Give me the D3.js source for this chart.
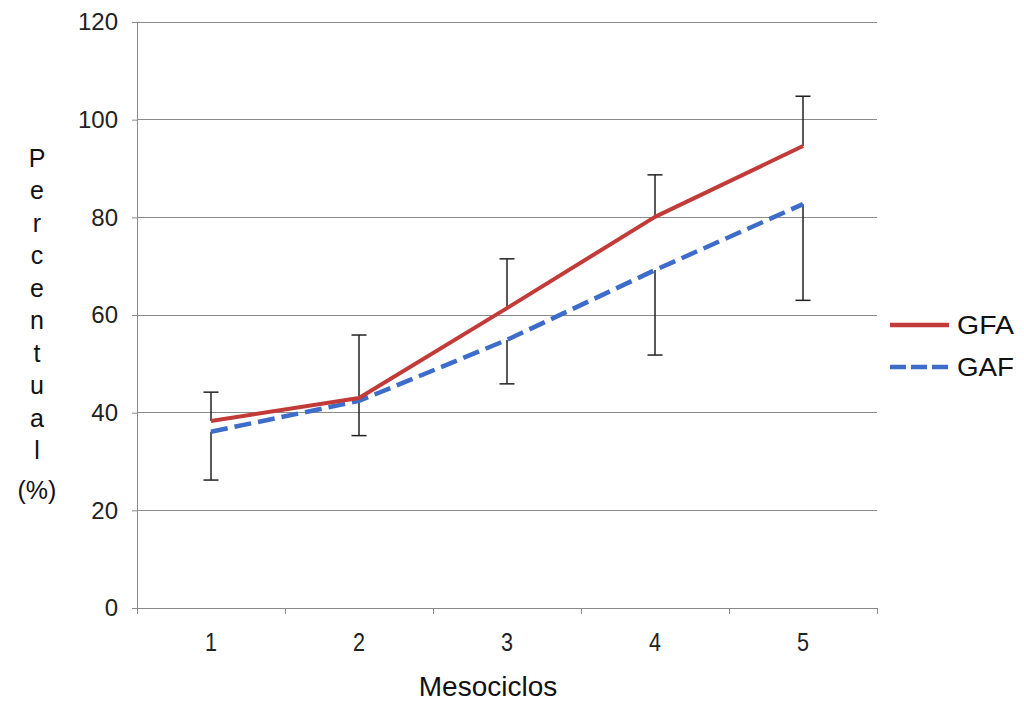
<!DOCTYPE html>
<html><head><meta charset="utf-8">
<script src="https://cdn.jsdelivr.net/npm/d3@7"></script>
<style>body{margin:0;background:#fff}svg{display:block}</style>
</head><body><svg id="c" width="1024" height="701"></svg>
<script>
const categories = ["1","2","3","4","5"];
const gfaValues = [38.3, 43.0, 61.4, 80.1, 94.6];
const gafValues = [36.1, 42.4, 54.9, 69.2, 82.7];
const gfaErrPlus = [5.9, 12.9, 10.1, 8.6, 10.2];
const gafErrMinus = [9.9, 7.1, 9.0, 17.4, 19.7];
const yTicks = [0, 20, 40, 60, 80, 100, 120];
const yLabelChars = ["P","e","r","c","e","n","t","u","a","l","(%)"];
const seriesNames = ["GFA","GAF"];

const svg = d3.select("#c");
const L = 137, R = 877, T = 22, B = 608;
const x = d3.scaleBand().domain(categories).range([L, R]);
const y = d3.scaleLinear().domain([0, 120]).range([B, T]);
const cx = d => x(d) + x.bandwidth()/2;
const red = "#C33B38", blue = "#3D6DC9", grid = "#8a8a8a";
const FF = "Liberation Sans, Arial, sans-serif";

// gridlines
svg.append("g").selectAll("line").data(yTicks.filter(t => t > 0)).join("line")
  .attr("x1", L).attr("x2", R).attr("y1", d => y(d)).attr("y2", d => y(d))
  .attr("stroke", grid).attr("stroke-width", 1).attr("shape-rendering","crispEdges");

// y axis
const ya = svg.append("g").attr("transform", `translate(${L},0)`)
  .call(d3.axisLeft(y).tickValues(yTicks).tickSize(5).tickPadding(14));
ya.select(".domain").attr("stroke", grid);
ya.selectAll(".tick line").attr("stroke", grid);
ya.selectAll(".tick text").attr("font-family", FF)
  .attr("font-size", 24).attr("fill","#222");

// x axis
const xa = svg.append("g").attr("transform", `translate(0,${B})`)
  .call(d3.axisBottom(x).tickSize(0).tickPadding(25));
xa.select(".domain").attr("stroke", grid);
xa.selectAll(".tick text").attr("font-family", FF)
  .attr("font-size", 25).attr("fill","#222").attr("textLength", 12).attr("lengthAdjust","spacingAndGlyphs");
// band-edge ticks
const edges = categories.map(c => x(c)).concat([R]);
svg.append("g").selectAll("line").data(edges).join("line")
  .attr("x1", d => d).attr("x2", d => d).attr("y1", B).attr("y2", B + 6)
  .attr("stroke", grid).attr("shape-rendering","crispEdges");

// error bars
const cap = 7.5;
function errBars(vals, errs, sign) {
  const g = svg.append("g").attr("stroke", "#222").attr("stroke-width", 1.5);
  categories.forEach((c, i) => {
    const yv = y(vals[i]), ye = y(vals[i] + sign * errs[i]);
    g.append("line").attr("x1", cx(c)).attr("x2", cx(c)).attr("y1", yv).attr("y2", ye);
    g.append("line").attr("x1", cx(c) - cap).attr("x2", cx(c) + cap).attr("y1", ye).attr("y2", ye);
  });
}
errBars(gfaValues, gfaErrPlus, 1);
errBars(gafValues, gafErrMinus, -1);

// lines
const line = d3.line().x((d, i) => cx(categories[i])).y(d => y(d));
svg.append("path").datum(gafValues).attr("d", line).attr("fill","none")
  .attr("stroke", blue).attr("stroke-width", 4.5).attr("stroke-dasharray","17,7");
svg.append("path").datum(gfaValues).attr("d", line).attr("fill","none")
  .attr("stroke", red).attr("stroke-width", 4).attr("stroke-linejoin","round");

// y label stacked
const yl = svg.append("g").attr("font-family", FF)
  .attr("font-size", 25).attr("fill","#111").attr("text-anchor","middle");
yLabelChars.forEach((ch, i) => {
  const yy = i < 10 ? 158 + i * 32.5 : 490;
  yl.append("text").attr("x", 37).attr("y", yy).attr("dy","0.35em").text(ch);
});

// x label
svg.append("text").attr("x", 488).attr("y", 696)
  .attr("text-anchor","middle").attr("font-family", FF)
  .attr("font-size", 28).attr("fill","#111")
  .text("Mesociclos");

// legend
const lg = svg.append("g");
[[red, null, 325], [blue, "16,5", 367]].forEach((s, i) => {
  lg.append("line").attr("x1", 890).attr("x2", 949).attr("y1", s[2]).attr("y2", s[2])
    .attr("stroke", s[0]).attr("stroke-width", 4.5).attr("stroke-dasharray", s[1]);
  lg.append("text").attr("x", 957).attr("y", s[2]).attr("dy","0.36em")
    .attr("font-family", FF).attr("font-size", 26).attr("fill","#111")
    .attr("textLength", 57).attr("lengthAdjust","spacingAndGlyphs")
    .text(seriesNames[i]);
});
</script></body></html>
